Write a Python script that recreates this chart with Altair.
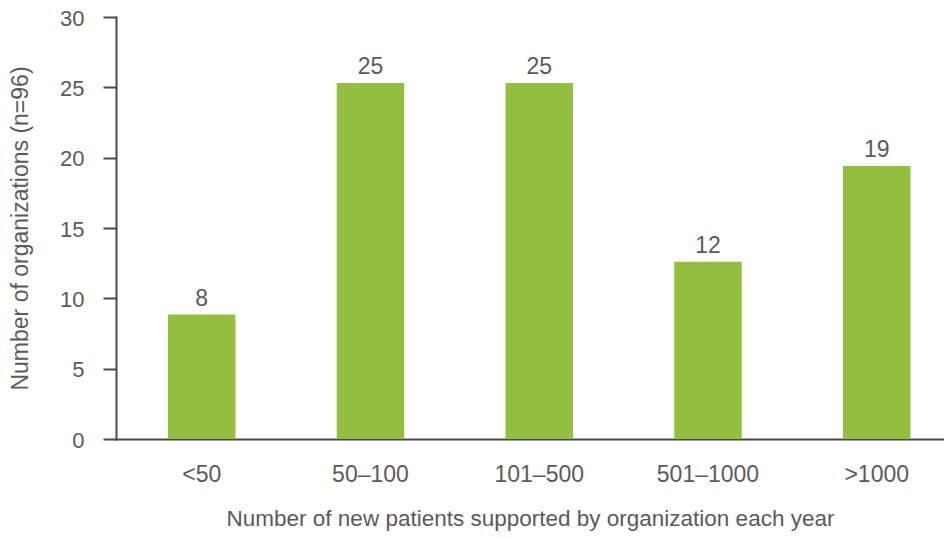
import altair as alt
import pandas as pd

categories = ["<50", "50–100", "101–500", "501–1000", ">1000"]
bar_values = [8.85, 25.3, 25.3, 12.6, 19.4]
bar_labels = ["8", "25", "25", "12", "19"]

df = pd.DataFrame({"cat": categories, "value": bar_values, "label": bar_labels})

FONT = "Liberation Sans"
GRAY = "#5a5a5a"
AXIS = "#4a4a4a"

x = alt.X(
    "cat:N",
    sort=categories,
    scale=alt.Scale(paddingInner=0.6, paddingOuter=0.2533, align=0.608),
    axis=alt.Axis(
        title="Number of new patients supported by organization each year",
        labelAngle=0,
        ticks=False,
        labelPadding=24,
        labelFontSize=23,
        labelColor=GRAY,
        labelFont=FONT,
        titleFont=FONT,
        titleFontSize=22.5,
        titleFontWeight="normal",
        titleColor=GRAY,
        titleBaseline="alphabetic",
        titleY=86,
        domainColor=AXIS,
        domainWidth=2,
    ),
)

y = alt.Y(
    "value:Q",
    scale=alt.Scale(domain=[0, 30]),
    axis=alt.Axis(
        title="Number of organizations (n=96)",
        values=[0, 5, 10, 15, 20, 25, 30],
        grid=False,
        tickSize=13,
        tickWidth=2,
        tickColor=AXIS,
        domainColor=AXIS,
        domainWidth=2,
        labelPadding=19,
        labelFontSize=22,
        labelColor=GRAY,
        labelFont=FONT,
        labelOffset=1,
        titleFont=FONT,
        titleFontSize=23,
        titleFontWeight="normal",
        titleColor=GRAY,
        titlePadding=27,
    ),
)

bars = alt.Chart(df).mark_bar(color="#92C03E").encode(x=x, y=y)

texts = alt.Chart(df).mark_text(
    baseline="alphabetic", dy=-9, fontSize=23, font=FONT, color=GRAY
).encode(x=alt.X("cat:N", sort=categories), y="value:Q", text="label:N")

chart = (
    alt.layer(bars, texts)
    .properties(
        width=828,
        height=422,
        autosize=alt.AutoSizeParams(type="none"),
        padding={"left": 108, "top": 9, "right": 0, "bottom": 92},
    )
    .configure_view(stroke=None)
    .configure_axis(domainCap="square")
)

chart.save("out.html", embed_options={"renderer": "svg", "actions": False})
